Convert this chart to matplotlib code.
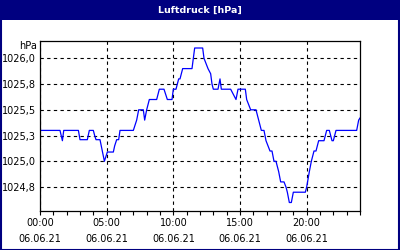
import matplotlib
matplotlib.use('Agg')
import matplotlib.pyplot as plt
import matplotlib.ticker as ticker
from matplotlib.patches import Rectangle

# Stunden seit 00:00 am 06.06.21
hours = [0.0, 1.5, 1.68, 1.78, 2.88, 3.0, 3.55, 3.7, 4.0, 4.1, 4.2, 4.5, 4.83,
         5.05, 5.5, 5.6, 5.75, 5.9, 6.0, 7.0, 7.25, 7.4, 7.75, 7.85, 8.0, 8.2,
         8.75, 8.95, 9.3, 9.55, 9.9, 10.0, 10.2, 10.4, 10.5, 10.7, 11.4, 11.6,
         12.2, 12.3, 12.6, 12.8, 12.9, 13.0, 13.35, 13.5, 13.6, 14.3, 14.7,
         14.85, 15.4, 15.5, 15.8, 16.2, 16.4, 16.6, 16.8, 16.95, 17.25, 17.4,
         17.55, 17.7, 17.9, 18.05, 18.3, 18.45, 18.55, 18.7, 18.85, 19.0, 19.9,
         20.0, 20.2, 20.35, 20.55, 20.7, 20.9, 21.3, 21.5, 21.7, 21.9, 22.0,
         22.2, 23.75, 23.9, 24.0]
pressure = [1025.30, 1025.30, 1025.20, 1025.30, 1025.30, 1025.21, 1025.21,
            1025.30, 1025.30, 1025.25, 1025.21, 1025.21, 1025.00, 1025.09,
            1025.09, 1025.15, 1025.21, 1025.21, 1025.30, 1025.30, 1025.40,
            1025.50, 1025.50, 1025.40, 1025.50, 1025.60, 1025.60, 1025.70,
            1025.70, 1025.60, 1025.60, 1025.70, 1025.70, 1025.80, 1025.80,
            1025.90, 1025.90, 1026.10, 1026.10, 1026.00, 1025.90, 1025.85,
            1025.75, 1025.70, 1025.70, 1025.80, 1025.70, 1025.70, 1025.60,
            1025.70, 1025.70, 1025.60, 1025.50, 1025.50, 1025.40, 1025.30,
            1025.30, 1025.20, 1025.10, 1025.10, 1025.00, 1025.00, 1024.90,
            1024.80, 1024.80, 1024.75, 1024.70, 1024.60, 1024.60, 1024.70,
            1024.70, 1024.75, 1024.90, 1025.00, 1025.10, 1025.10, 1025.20,
            1025.20, 1025.30, 1025.30, 1025.20, 1025.20, 1025.30, 1025.30,
            1025.40, 1025.42]

y_ticks = [1024.75, 1025.0, 1025.25, 1025.5, 1025.75, 1026.0]
y_labels = ['1024,8', '1025,0', '1025,3', '1025,5', '1025,8', '1026,0']
x_ticks = [0, 5, 10, 15, 20]
x_labels = ['00:00\n06.06.21', '05:00\n06.06.21', '10:00\n06.06.21',
            '15:00\n06.06.21', '20:00\n06.06.21']

navy = '#000080'

fig = plt.figure(figsize=(4, 2.5), dpi=100)
fig.patch.set_facecolor('white')

# Titelleiste und Rahmen
fig.patches.append(Rectangle((0, 0.92), 1, 0.08, transform=fig.transFigure,
                             facecolor=navy, edgecolor='none', zorder=0))
fig.patches.append(Rectangle((0.002, 0.002), 0.996, 0.996, transform=fig.transFigure,
                             facecolor='none', edgecolor=navy, linewidth=1.5, zorder=5))
fig.text(0.5, 0.96, 'Luftdruck [hPa]', color='white', fontsize=6.8,
         fontweight='bold', ha='center', va='center')

ax = fig.add_axes([0.1, 0.157, 0.8, 0.679])
ax.plot(hours, pressure, color='#0000ff', linewidth=0.9)

ax.set_xlim(0, 24)
ax.set_ylim(1024.52, 1026.168)
ax.set_yticks(y_ticks)
ax.set_yticklabels(y_labels)
ax.set_xticks(x_ticks)
ax.set_xticklabels(x_labels, linespacing=1.75)
ax.xaxis.set_minor_locator(ticker.MultipleLocator(1))

ax.grid(True, which='major', color='black', linestyle=(0, (3, 3)), linewidth=0.8)
ax.tick_params(which='both', direction='out', length=3, width=0.8, labelsize=7)
ax.tick_params(axis='y', length=0, pad=3)
ax.tick_params(axis='x', pad=2)
for s in ax.spines.values():
    s.set_linewidth(0.9)

ax.text(-0.01, 1.0, 'hPa', transform=ax.transAxes, ha='right', va='top', fontsize=7)

fig.savefig('out.png', dpi=100)
